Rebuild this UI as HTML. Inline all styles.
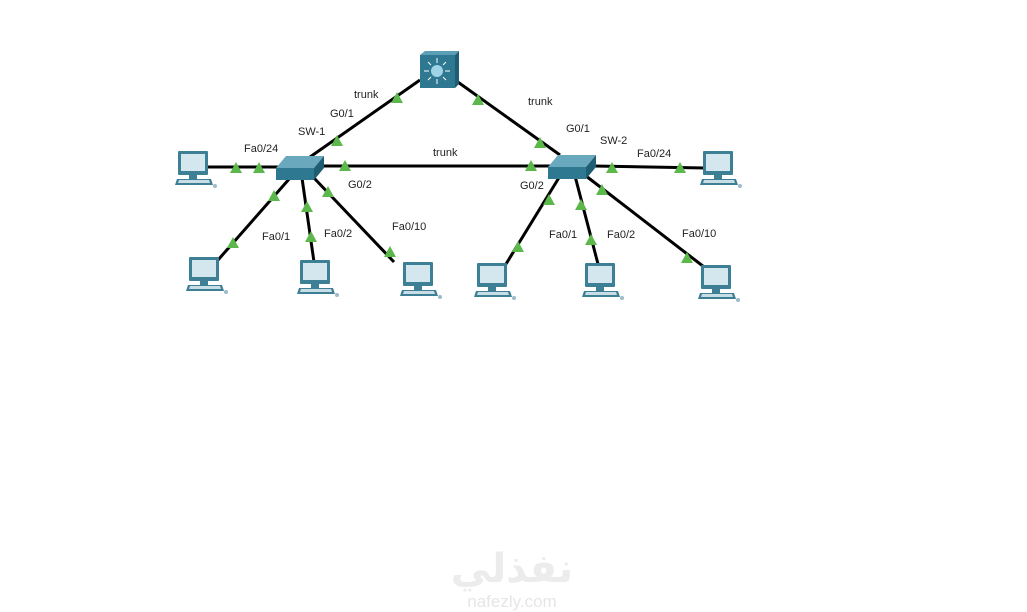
<!DOCTYPE html>
<html><head><meta charset="utf-8"><style>
html,body{margin:0;padding:0;background:#fff;width:1027px;height:612px;overflow:hidden}
svg text{font-family:"Liberation Sans",sans-serif;font-size:11px;fill:#222}
</style></head><body>
<svg width="1027" height="612" viewBox="0 0 1027 612" xmlns="http://www.w3.org/2000/svg">
<defs>
<g id="pc">
<rect x="3" y="0" width="30" height="24" fill="#3d7f94" rx="1"/>
<rect x="6" y="3" width="24" height="17" fill="#d4e6ee"/>
<rect x="14" y="24" width="8" height="4" fill="#3d7f94"/>
<polygon points="2,28 36,28 38,34 0,34" fill="#3d7f94"/>
<polygon points="4,29 34,29 35,32 3,32" fill="#c9dde6"/>
<circle cx="40" cy="35" r="2" fill="#9bbcc8"/>
</g>
<polygon id="tri" points="0,-6 6,5 -6,5" fill="#5cb84a"/>
</defs>
<g stroke="#000" stroke-width="3" fill="none">
<line x1="420" y1="80" x2="310" y2="157"/>
<line x1="455" y1="80" x2="560" y2="155"/>
<line x1="320" y1="166" x2="550" y2="166"/>
<line x1="208" y1="167" x2="278" y2="167"/>
<line x1="594" y1="166" x2="705" y2="168"/>
<line x1="290" y1="178" x2="218" y2="260"/>
<line x1="302" y1="178" x2="314" y2="262"/>
<line x1="314" y1="178" x2="394" y2="262"/>
<line x1="560" y1="176" x2="506" y2="264"/>
<line x1="575" y1="176" x2="598" y2="264"/>
<line x1="586" y1="176" x2="708" y2="270"/>
</g>
<!-- router -->
<rect x="420" y="55" width="35" height="33" fill="#2e7892"/>
<polygon points="420,55 425,51 459,51 455,55" fill="#5a9fb5"/>
<polygon points="455,55 459,51 459,84 455,88" fill="#1f5d72"/>
<circle cx="437" cy="71" r="6" fill="#9fd3e6"/>
<g stroke="#fff" stroke-width="1"><line x1="437" y1="58" x2="437" y2="63"/><line x1="437" y1="79" x2="437" y2="84"/><line x1="424" y1="71" x2="429" y2="71"/><line x1="445" y1="71" x2="450" y2="71"/><line x1="428" y1="62" x2="431" y2="65"/><line x1="446" y1="62" x2="443" y2="65"/><line x1="428" y1="80" x2="431" y2="77"/><line x1="446" y1="80" x2="443" y2="77"/></g>
<!-- switches -->
<g>
<polygon points="276,168 286,156 324,156 314,168" fill="#6aa8bd"/>
<rect x="276" y="168" width="38" height="12" fill="#2e7892"/>
<polygon points="314,168 324,156 324,168 314,180" fill="#1f5d72"/>
</g>
<g>
<polygon points="548,167 558,155 596,155 586,167" fill="#6aa8bd"/>
<rect x="548" y="167" width="38" height="12" fill="#2e7892"/>
<polygon points="586,167 596,155 596,167 586,179" fill="#1f5d72"/>
</g>
<use href="#pc" x="175" y="151"/>
<use href="#pc" x="186" y="257"/>
<use href="#pc" x="297" y="260"/>
<use href="#pc" x="400" y="262"/>
<use href="#pc" x="474" y="263"/>
<use href="#pc" x="582" y="263"/>
<use href="#pc" x="698" y="265"/>
<use href="#pc" x="700" y="151"/>
<use href="#tri" x="397" y="98"/><use href="#tri" x="478" y="100"/>
<use href="#tri" x="337" y="141"/><use href="#tri" x="540" y="143"/>
<use href="#tri" x="236" y="168"/><use href="#tri" x="259" y="168"/>
<use href="#tri" x="345" y="166"/><use href="#tri" x="531" y="166"/>
<use href="#tri" x="612" y="168"/><use href="#tri" x="680" y="168"/>
<use href="#tri" x="274" y="196"/><use href="#tri" x="307" y="207"/>
<use href="#tri" x="328" y="192"/><use href="#tri" x="233" y="243"/>
<use href="#tri" x="311" y="237"/><use href="#tri" x="390" y="252"/>
<use href="#tri" x="549" y="200"/><use href="#tri" x="581" y="205"/>
<use href="#tri" x="602" y="190"/><use href="#tri" x="518" y="247"/>
<use href="#tri" x="591" y="240"/><use href="#tri" x="687" y="258"/>
<text x="354" y="98">trunk</text>
<text x="330" y="117">G0/1</text>
<text x="298" y="135">SW-1</text>
<text x="244" y="152">Fa0/24</text>
<text x="433" y="156">trunk</text>
<text x="348" y="188">G0/2</text>
<text x="262" y="240">Fa0/1</text>
<text x="324" y="237">Fa0/2</text>
<text x="392" y="230">Fa0/10</text>
<text x="528" y="105">trunk</text>
<text x="566" y="132">G0/1</text>
<text x="600" y="144">SW-2</text>
<text x="637" y="157">Fa0/24</text>
<text x="520" y="189">G0/2</text>
<text x="549" y="238">Fa0/1</text>
<text x="607" y="238">Fa0/2</text>
<text x="682" y="237">Fa0/10</text>
<text x="512" y="582" text-anchor="middle" style="font-family:'Liberation Sans','DejaVu Sans',sans-serif;font-size:40px;font-weight:bold;fill:#ececec">نفذلي</text>
<text x="512" y="607" text-anchor="middle" style="font-size:17px;fill:#e6e6e6">nafezly.com</text>
</svg>
</body></html>
